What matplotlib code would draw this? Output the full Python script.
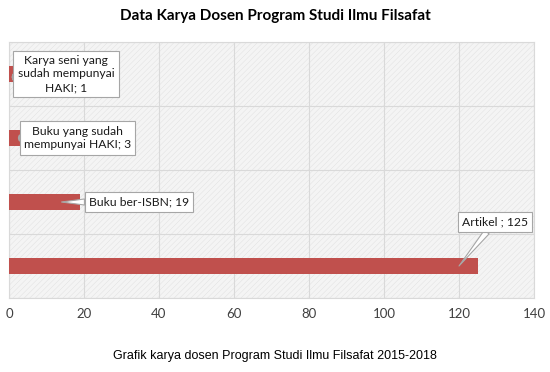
import matplotlib.pyplot as plt
from matplotlib.patches import Rectangle

# data (bottom to top)
categories = ["Artikel ", "Buku ber-ISBN", "Buku yang sudah\nmempunyai HAKI", "Karya seni yang\nsudah mempunyai\nHAKI"]
values = [125, 19, 3, 1]
labels = ["Artikel ; 125", "Buku ber-ISBN; 19", "Buku yang sudah\nmempunyai HAKI; 3", "Karya seni yang\nsudah mempunyai\nHAKI; 1"]
label_pos = [(129.6, 0.69), (34.7, 1.0), (18.3, 2.0), (15.2, 3.0)]
tip_pos = [(120, 0.0), (14, 1.0), (2.5, 2.0), (0.8, 2.95)]

plt.rcParams['hatch.linewidth'] = 0.3
fig = plt.figure(figsize=(5.5, 3.72), dpi=100)
ax = fig.add_axes([9 / 550, 1 - 298 / 372, 525 / 550, 256 / 372])

ax.set_facecolor('#f4f4f4')
ax.add_patch(Rectangle((0, 0), 1, 1, transform=ax.transAxes, facecolor='none',
                       edgecolor='#dedede', hatch='//////', linewidth=0, zorder=0))

y = list(range(len(values)))
ax.barh(y, values, height=0.26, color='#c0504d', zorder=3)

ax.set_xlim(0, 140)
ax.set_ylim(-0.5, 3.5)
ax.set_xticks(range(0, 141, 20))
ax.set_yticks([-0.5, 0.5, 1.5, 2.5, 3.5])
ax.set_yticklabels([])
ax.tick_params(length=0, labelsize=9.5, colors='#404040', pad=7)
for t in ax.get_xticklabels():
    t.set_family('Lato')
ax.grid(True, color='#d9d9d9', linewidth=0.8, zorder=1)
for s in ax.spines.values():
    s.set_color('#d9d9d9')

for lab, (lx, ly), (tx, ty) in zip(labels, label_pos, tip_pos):
    ax.annotate(lab, xy=(tx, ty), xytext=(lx, ly), ha='center', va='center',
                fontsize=8.7, color='#1a1a1a', family='Lato', linespacing=1.3, zorder=5,
                bbox=dict(boxstyle='square,pad=0.35', fc='white', ec='#a6a6a6', lw=0.8),
                arrowprops=dict(arrowstyle='wedge,tail_width=0.5', fc='white', ec='#a6a6a6',
                                lw=0.8, shrinkA=0, shrinkB=0))

fig.text(0.5, 1 - 16 / 372, "Data Karya Dosen Program Studi Ilmu Filsafat", ha='center', va='center',
         fontsize=11, fontweight='bold', family='Lato', color='#000000')
fig.text(0.5, 1 - 356 / 372, "Grafik karya dosen Program Studi Ilmu Filsafat 2015-2018", ha='center',
         va='center', fontsize=9, family='Liberation Sans', color='#000000')

fig.savefig("out.png", dpi=100)
